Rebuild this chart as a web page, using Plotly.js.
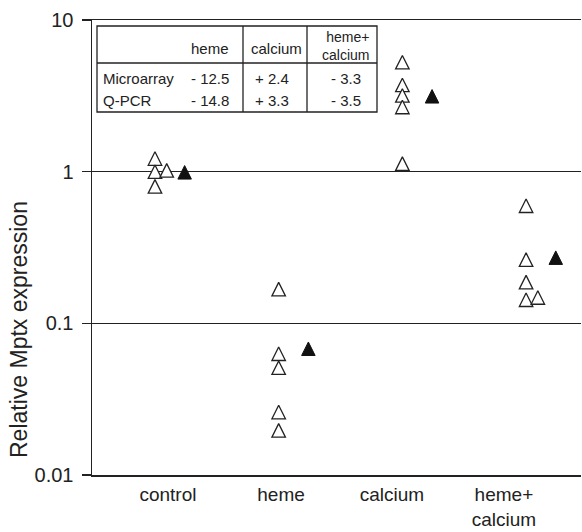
<!DOCTYPE html>
<html>
<head>
<meta charset="utf-8">
<script src="https://cdn.plot.ly/plotly-3.0.1.min.js"></script>
<style>html,body{margin:0;padding:0;background:#fff}#chart{width:582px;height:532px}</style>
</head>
<body>
<div id="chart"></div>
<script>
// ---------- data ----------
const categories = ['control', 'heme', 'calcium', 'heme+<br>calcium'];
// individual animals (open triangles), relative Mptx expression
const controlMice = [1.22, 1.0, 0.8, 1.02];
const hemeMice = [0.168, 0.063, 0.051, 0.026, 0.0197];
const calciumMice = [5.27, 3.73, 3.18, 2.67, 1.13];
const hemeCalciumMice = [0.596, 0.263, 0.187, 0.143, 0.148];
// pooled values (filled triangles)
const pooledValues = [0.99, 0.068, 3.14, 0.271];
// y-axis ticks
const yTickVals = [0.01, 0.1, 1, 10];
const yTickText = ['0.01', '0.1', '1', '10'];
const yTitle = 'Relative Mptx expression';
// inset table
const tableCols = ['heme', 'calcium', 'heme+<br>calcium'];
const tableRows = ['Microarray', 'Q-PCR'];
const microarrayFold = ['- 12.5', '+ 2.4', '- 3.3'];
const qpcrFold = ['- 14.8', '+ 3.3', '- 3.5'];

// ---------- layout constants ----------
const W = 582, H = 532;
const M = {l: 92, r: 1, t: 20, b: 57};
const pooledOffset = 0.24;   // filled marker sits right of the group
const dodgeStep = 0.095;     // overlapping open markers are nudged right
const labelShift = [0.105, 0.019, -0.084, -0.179];
const ink = '#222';
const FONT = '"Liberation Sans", Arial, Helvetica, sans-serif';

const groups = [controlMice, hemeMice, calciumMice, hemeCalciumMice];
const openX = [], openY = [];
groups.forEach((vals, gi) => {
  const placed = [];
  vals.forEach(v => {
    let slot = 0;
    while (placed.some(p => p.slot === slot && Math.abs(Math.log10(p.v) - Math.log10(v)) < 0.03)) slot++;
    placed.push({v, slot});
    openX.push(gi + 1 + slot * dodgeStep);
    openY.push(v);
  });
});
const pooledX = pooledValues.map((v, i) => i + 1 + pooledOffset);

const mSize = 13.5;
const traces = [
  {
    type: 'scatter', mode: 'markers', x: openX, y: openY, name: 'animals',
    marker: {symbol: 'arrow-down', angle: 180, standoff: mSize / 2, size: mSize,
             color: '#ffffff', line: {color: ink, width: 1.3}},
    cliponaxis: false, hoverinfo: 'y'
  },
  {
    type: 'scatter', mode: 'markers', x: pooledX, y: pooledValues, name: 'pooled',
    marker: {symbol: 'arrow-down', angle: 180, standoff: mSize / 2, size: mSize,
             color: '#111', line: {color: '#111', width: 1}},
    cliponaxis: false, hoverinfo: 'y'
  }
];

// pixel -> paper helpers for the inset table and title
const pw = W - M.l - M.r, ph = H - M.t - M.b;
const px = x => (x - M.l) / pw;
const py = y => (H - M.b - y) / ph;

const tb = {x0: 97, x1: 377, y0: 26, y1: 112, ySep: 63, xSep: [243, 307]};
const shapes = [
  {type: 'rect', xref: 'paper', yref: 'paper', x0: px(tb.x0), x1: px(tb.x1), y0: py(tb.y1), y1: py(tb.y0),
   line: {color: ink, width: 1.3}, fillcolor: 'rgba(0,0,0,0)'},
  {type: 'line', xref: 'paper', yref: 'paper', x0: px(tb.x0), x1: px(tb.x1), y0: py(tb.ySep), y1: py(tb.ySep),
   line: {color: ink, width: 1.3}}
].concat(tb.xSep.map(xs => ({type: 'line', xref: 'paper', yref: 'paper', x0: px(xs), x1: px(xs),
   y0: py(tb.y1), y1: py(tb.y0), line: {color: ink, width: 1.3}})));

const tFont = {family: FONT, size: 15, color: ink};
const colAnchor = [{x: 231, a: 'right', y: 48, size: 15}, {x: 276, a: 'center', y: 48, size: 15},
                   {x: 371, a: 'right', y: 45.5, size: 14}];
const rowY = [78, 100];
const valueAnchor = [{x: 231, a: 'right'}, {x: 272, a: 'center'}, {x: 363, a: 'right'}];
const annotations = [];
tableCols.forEach((c, i) => annotations.push({xref: 'paper', yref: 'paper', x: px(colAnchor[i].x),
  y: py(colAnchor[i].y), xanchor: colAnchor[i].a, yanchor: 'middle', align: colAnchor[i].a,
  text: c, showarrow: false, font: {family: FONT, size: colAnchor[i].size, color: ink}}));
tableRows.forEach((r, ri) => {
  annotations.push({xref: 'paper', yref: 'paper', x: px(101), y: py(rowY[ri]), xanchor: 'left', yanchor: 'middle',
    text: r, showarrow: false, font: tFont});
  const vals = ri === 0 ? microarrayFold : qpcrFold;
  vals.forEach((v, i) => annotations.push({xref: 'paper', yref: 'paper', x: px(valueAnchor[i].x),
    y: py(rowY[ri]), xanchor: valueAnchor[i].a, yanchor: 'middle', text: v, showarrow: false, font: tFont}));
});
// y-axis title
annotations.push({xref: 'paper', yref: 'paper', x: px(19), y: py(330), xanchor: 'center', yanchor: 'middle',
  textangle: -90, text: yTitle, showarrow: false, font: {family: FONT, size: 23, color: ink}});

const layout = {
  width: W, height: H, margin: M, showlegend: false,
  paper_bgcolor: '#fff', plot_bgcolor: '#fff',
  font: {family: FONT, size: 20, color: ink},
  xaxis: {
    type: 'linear', range: [0.491, 4.444], showgrid: false, zeroline: false,
    showline: true, mirror: true, linecolor: ink, linewidth: 1.5, ticks: '',
    tickvals: categories.map((c, i) => i + 1 + labelShift[i]), ticktext: categories,
    tickfont: {family: FONT, size: 19, color: ink}, ticklabelstandoff: 2
  },
  yaxis: {
    type: 'log', range: [-2, 1], tickvals: yTickVals, ticktext: yTickText,
    showgrid: true, gridcolor: ink, gridwidth: 1.5, zeroline: false,
    showline: true, linecolor: ink, linewidth: 1.5,
    ticks: 'outside', ticklen: 9, tickcolor: ink, tickwidth: 1.5,
    tickfont: {family: FONT, size: 20, color: ink}, ticklabelstandoff: 4
  },
  shapes: shapes, annotations: annotations
};

Plotly.newPlot('chart', traces, layout, {displayModeBar: false, staticPlot: true});
</script>
</body>
</html>
